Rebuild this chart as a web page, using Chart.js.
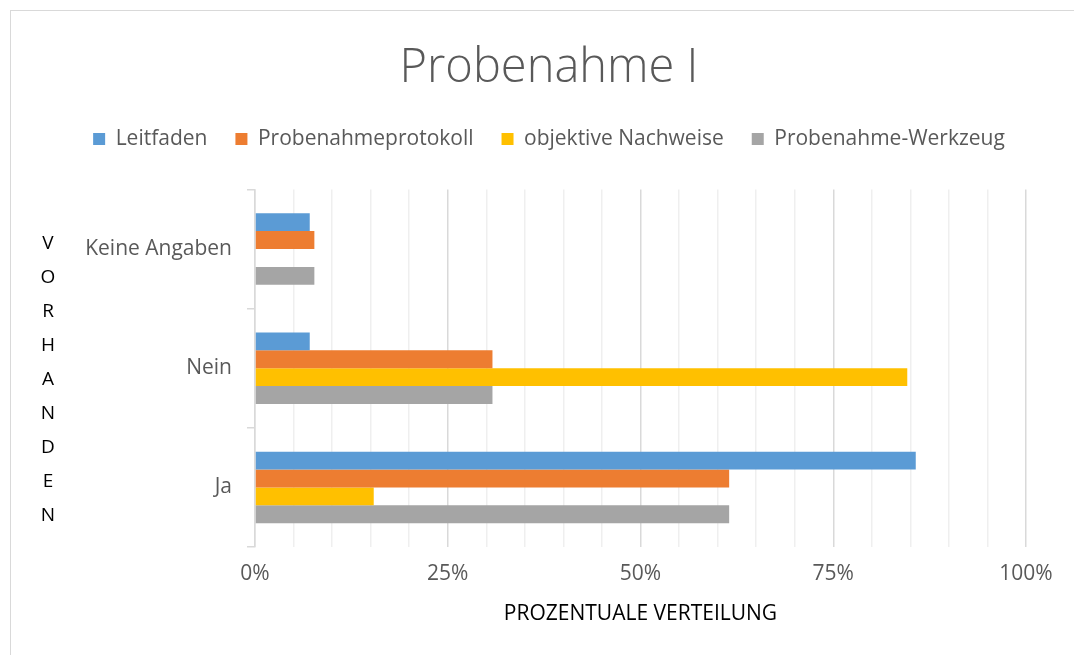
<!DOCTYPE html>
<html>
<head>
<meta charset="utf-8">
<script src="https://cdn.jsdelivr.net/npm/chart.js@4/dist/chart.umd.min.js"></script>
<style>
  html, body { margin: 0; padding: 0; background: #ffffff; }
  #wrap { width: 1074px; height: 655px; position: relative; }
</style>
</head>
<body>
<div id="wrap"><canvas id="c" width="1074" height="655"></canvas></div>
<script>
// ---- data ----
const categories = ['Keine Angaben', 'Nein', 'Ja'];
const seriesNames = ['Leitfaden', 'Probenahmeprotokoll', 'objektive Nachweise', 'Probenahme-Werkzeug'];
const leitfaden = [7.1, 7.1, 85.7];
const probenahmeprotokoll = [7.7, 30.8, 61.5];
const objektiveNachweise = [null, 84.6, 15.4];
const werkzeug = [7.7, 30.8, 61.5];
const xTickLabels = ['0%', '25%', '50%', '75%', '100%'];
const chartTitle = 'Probenahme I';
const xTitle = 'PROZENTUALE VERTEILUNG';
const yTitle = 'VORHANDEN';

const colors = ['#5B9BD5', '#ED7D31', '#FFC000', '#A5A5A5'];
const seriesValues = [leitfaden, probenahmeprotokoll, objektiveNachweise, werkzeug];

const FONT = "'Open Sans', 'Segoe UI', sans-serif";
const GREY_TEXT = '#595959';

const frame = {
  id: 'frame',
  beforeDraw(chart) {
    const ctx = chart.ctx;
    ctx.save();
    ctx.fillStyle = '#ffffff';
    ctx.fillRect(0, 0, chart.width, chart.height);
    ctx.strokeStyle = '#d9d9d9';
    ctx.lineWidth = 1;
    ctx.strokeRect(10.5, 10.5, chart.width + 20, chart.height + 20);
    ctx.restore();
  }
};

const legendSpace = {
  id: 'legendSpace',
  beforeInit(chart) {
    const orig = chart.legend.fit;
    chart.legend.fit = function () {
      orig.bind(chart.legend)();
      this.height += 30;
    };
  },
  afterLayout(chart) {
    // centre title and legend on the plot rather than on the canvas
    const shift = 31;
    [chart.legend, chart.titleBlock].forEach((b) => {
      if (b) { b.left += shift; b.right += shift; }
    });
  }
};

const stackedTitle = {
  id: 'stackedTitle',
  afterDraw(chart) {
    const ctx = chart.ctx;
    const area = chart.chartArea;
    const letters = yTitle.split('');
    const step = 34;
    const cy = (area.top + area.bottom) / 2 + 11;
    const y0 = cy - step * (letters.length - 1) / 2;
    ctx.save();
    ctx.font = "19px " + FONT;
    ctx.fillStyle = '#000000';
    ctx.textAlign = 'center';
    ctx.textBaseline = 'middle';
    letters.forEach((l, i) => ctx.fillText(l, 48, y0 + i * step));
    ctx.restore();
  }
};

new Chart(document.getElementById('c'), {
  type: 'bar',
  data: {
    labels: categories,
    datasets: seriesNames.map((n, i) => ({
      label: n,
      data: seriesValues[i],
      backgroundColor: colors[i],
      borderWidth: 0,
      categoryPercentage: 0.6,
      barPercentage: 1.0
    }))
  },
  plugins: [frame, legendSpace, stackedTitle],
  options: {
    indexAxis: 'y',
    responsive: false,
    animation: false,
    layout: { padding: { top: 40, right: 48, left: 10, bottom: 28 } },
    plugins: {
      title: {
        display: true,
        text: chartTitle,
        color: GREY_TEXT,
        font: { family: FONT, size: 47, weight: 300 },
        padding: { top: 0, bottom: 4 }
      },
      legend: {
        position: 'top',
        labels: {
          color: GREY_TEXT,
          font: { family: FONT, size: 21 },
          boxWidth: 12,
          boxHeight: 12,
          padding: 28
        }
      },
      tooltip: { enabled: false }
    },
    scales: {
      x: {
        min: 0,
        max: 100,
        border: { display: false },
        ticks: {
          stepSize: 5,
          autoSkip: false,
          maxRotation: 0,
          color: GREY_TEXT,
          font: { family: FONT, size: 21 },
          padding: 14,
          callback: (v) => (v % 25 === 0 ? xTickLabels[v / 25] : '')
        },
        grid: {
          drawTicks: false,
          color: (c) => (c.tick && c.tick.value % 25 === 0 ? '#d9d9d9' : '#efefef'),
          lineWidth: 1.5
        },
        title: {
          display: true,
          text: xTitle,
          color: '#000000',
          font: { family: FONT, size: 21 },
          padding: { top: 4, bottom: 0 }
        },
        afterFit: (s) => { s.height = 80; }
      },
      y: {
        border: { display: true, color: '#d9d9d9', width: 1.5 },
        grid: {
          offset: true,
          drawOnChartArea: false,
          drawTicks: true,
          tickLength: 8,
          color: '#d9d9d9',
          lineWidth: 1.5
        },
        ticks: {
          color: GREY_TEXT,
          font: { family: FONT, size: 21 },
          padding: 15
        },
        afterFit: (s) => { s.width = 245; }
      }
    }
  }
});
</script>
</body>
</html>
